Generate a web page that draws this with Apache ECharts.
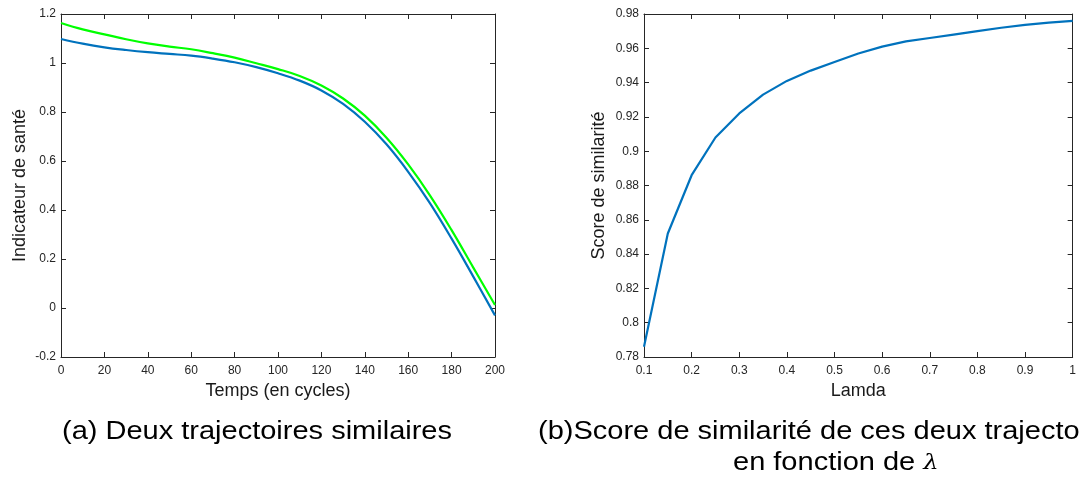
<!DOCTYPE html>
<html><head><meta charset="utf-8">
<script src="https://cdn.jsdelivr.net/npm/echarts@6/dist/echarts.min.js"></script>
<style>html,body{margin:0;padding:0;background:#fff}#c{width:1079px;height:478px}</style>
</head><body><div id="c"></div>
<script>
const time = [0,10,20,30,40,50,60,70,80,90,100,110,120,130,140,150,160,170,180,190,200];
const blueTraj = [1.098,1.079,1.064,1.053,1.044,1.037,1.030,1.018,1.003,0.983,0.958,0.928,0.888,0.833,0.760,0.668,0.556,0.428,0.283,0.128,-0.030];
const greenTraj = [1.163,1.137,1.117,1.097,1.080,1.067,1.056,1.040,1.022,0.999,0.975,0.947,0.908,0.855,0.785,0.695,0.586,0.460,0.318,0.165,0.012];
const lambda = [0.1,0.15,0.2,0.25,0.3,0.35,0.4,0.45,0.5,0.55,0.6,0.65,0.7,0.75,0.8,0.85,0.9,0.95,1.0];
const score = [0.786,0.852,0.886,0.908,0.922,0.933,0.941,0.947,0.952,0.957,0.961,0.964,0.966,0.968,0.970,0.972,0.9737,0.975,0.976];
const leftXTicks = {min:0,max:200,interval:20};
const leftYTicks = {min:-0.2,max:1.2,interval:0.2};
const rightXTicks = {min:0.1,max:1,interval:0.1};
const rightYTicks = {min:0.78,max:0.98,interval:0.02};
const captionA = '(a) Deux trajectoires similaires';
const captionB1 = '(b)Score de similarité de ces deux trajectoires';
const captionB2 = 'en fonction de ';

const FONT = '"Liberation Sans", Arial, sans-serif';
const AX = '#262626';
function fmt(v){ return (Math.round(v*100)/100).toString(); }
function mainAxis(gi, pos, t, name, gap, showLabel, isX){
  return {
    type:'value', gridIndex:gi, position:pos, min:t.min, max:t.max, interval:t.interval,
    name: name, nameLocation:'middle', nameGap:gap,
    nameTextStyle:{fontFamily:FONT,fontSize:18,color:'#1a1a1a'},
    axisLine:{show:true,onZero:false,lineStyle:{color:AX,width:1}},
    axisTick:{show:true,inside:true,length:5,lineStyle:{color:AX}},
    axisLabel:{show:showLabel,fontFamily:FONT,fontSize:12,color:AX,margin:isX?8:5,formatter:fmt,
      showMinLabel:true,showMaxLabel:true},
    splitLine:{show:false}
  };
}
const chart = echarts.init(document.getElementById('c'));
const CAP = 25, SX = 1.16;
chart.setOption({
  animation:false,
  backgroundColor:'#fff',
  grid:[
    {left:61,top:14,width:434,height:343},
    {left:644,top:14,width:435,height:343}
  ],
  xAxis:[
    mainAxis(0,'bottom',leftXTicks,'Temps (en cycles)',25,true,true),
    mainAxis(0,'top',leftXTicks,'',0,false,true),
    mainAxis(1,'bottom',rightXTicks,'Lamda',25,true,true),
    mainAxis(1,'top',rightXTicks,'',0,false,true)
  ],
  yAxis:[
    mainAxis(0,'left',leftYTicks,'Indicateur de santé',32,true,false),
    mainAxis(0,'right',leftYTicks,'',0,false,false),
    mainAxis(1,'left',rightYTicks,'Score de similarité',36,true,false),
    mainAxis(1,'right',rightYTicks,'',0,false,false)
  ],
  series:[
    {type:'line',xAxisIndex:0,yAxisIndex:0,data:time.map((x,i)=>[x,greenTraj[i]]),smooth:0.4,showSymbol:false,
      lineStyle:{color:'#00ff00',width:2.2}},
    {type:'line',xAxisIndex:0,yAxisIndex:0,data:time.map((x,i)=>[x,blueTraj[i]]),smooth:0.4,showSymbol:false,
      lineStyle:{color:'#0072bd',width:2.2}},
    {type:'line',xAxisIndex:2,yAxisIndex:2,data:lambda.map((x,i)=>[x,score[i]]),smooth:false,showSymbol:false,
      lineStyle:{color:'#0072bd',width:2.2}}
  ],
  graphic:[
    {type:'text',x:62,y:420,scaleX:SX,style:{text:captionA,fontFamily:FONT,fontSize:CAP,fill:'#000'}},
    {type:'text',x:538,y:420,scaleX:SX,style:{text:captionB1,fontFamily:FONT,fontSize:CAP,fill:'#000'}},
    {type:'text',x:733,y:451,scaleX:SX,style:{
      text:'{a|'+captionB2+'}{l|λ}',
      rich:{a:{fontFamily:FONT,fontSize:CAP,fill:'#000',color:'#000'},
            l:{fontFamily:'"DejaVu Serif", serif',fontStyle:'italic',fontSize:21,fill:'#000',color:'#000'}}
    }}
  ]
});
</script></body></html>
